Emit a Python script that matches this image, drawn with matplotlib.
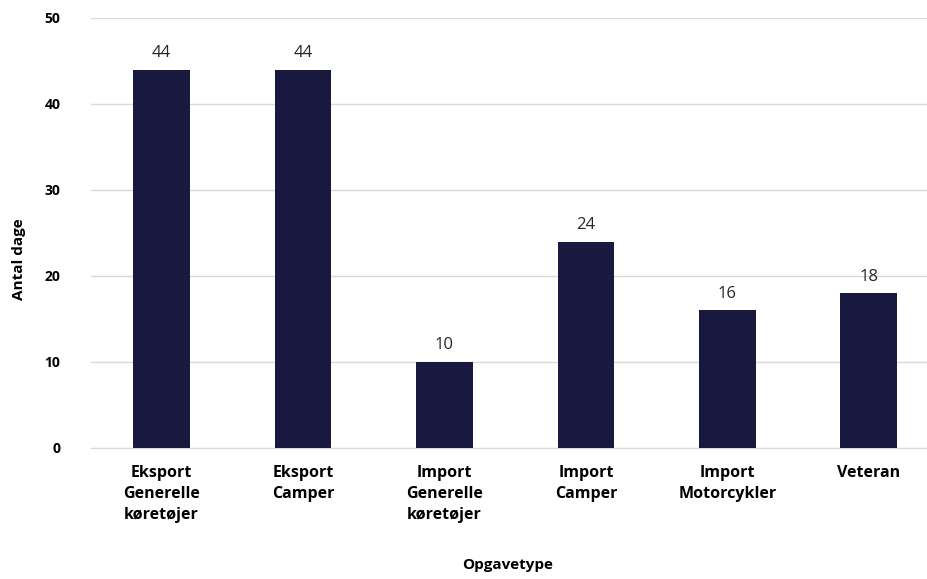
import matplotlib
matplotlib.use('Agg')
import matplotlib.pyplot as plt
import numpy as np

categories = ['Eksport\nGenerelle\nkøretøjer', 'Eksport\nCamper', 'Import\nGenerelle\nkøretøjer',
              'Import\nCamper', 'Import\nMotorcykler', 'Veteran']
values = [44, 44, 10, 24, 16, 18]
yticks = [0, 10, 20, 30, 40, 50]

plt.rcParams['font.family'] = ['Open Sans', 'DejaVu Sans']

fig = plt.figure(figsize=(9.28, 5.79), dpi=100)
ax = fig.add_axes([0.098, 0.2263, 0.9143, 0.7427])

x = np.arange(len(categories))
bars = ax.bar(x, values, width=0.4, color='#19183f', zorder=3)

for b, v in zip(bars, values):
    ax.text(b.get_x() + b.get_width() / 2, v + 1.0, str(v), ha='center', va='bottom',
            fontsize=12, color='#262626')

ax.set_xlim(-0.5, len(categories) - 0.5)
ax.set_ylim(0, 50)
ax.set_yticks(yticks)
ax.set_yticklabels([str(t) for t in yticks], fontsize=10, fontweight='bold')
ax.set_xticks(x)
ax.set_xticklabels(categories, fontsize=11.5, fontweight='bold', linespacing=1.45)
ax.tick_params(axis='both', length=0)
ax.tick_params(axis='x', pad=12)
ax.tick_params(axis='y', pad=22)

ax.yaxis.grid(True, color='#d9d9d9', linewidth=1, zorder=0)
for s in ['top', 'right', 'left']:
    ax.spines[s].set_visible(False)
ax.spines['bottom'].set_color('#d9d9d9')

ax.set_xlabel('Opgavetype', fontsize=11, fontweight='bold')
ax.xaxis.set_label_coords(0.491, -0.255)
ax.set_ylabel('Antal dage', fontsize=11, fontweight='bold')
ax.yaxis.set_label_coords(-0.077, 0.44)

fig.savefig('out.png', dpi=100)
